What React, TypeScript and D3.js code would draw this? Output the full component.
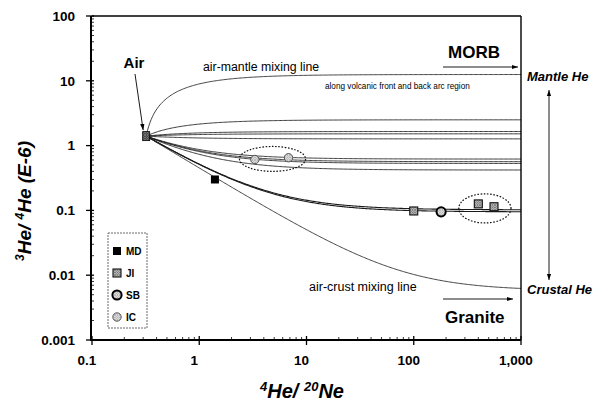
import React from "react";
import * as d3 from "d3";

// ---- data ----
const airPoint = { x: 0.32, y: 1.4 };
// end-member 3He/4He (E-6) of each air mixing curve, read at 4He/20Ne = 1,000
const mixingEndMembers = [12.5, 2.5, 1.65, 1.52, 1.27, 0.62, 0.565, 0.53, 0.42, 0.102, 0.095, 0.0058];
const mdPoints = [{ x: 1.4, y: 0.3 }];
const jiPoints = [
  { x: 100, y: 0.098 },
  { x: 400, y: 0.126 },
  { x: 560, y: 0.114 },
];
const sbPoints = [{ x: 180, y: 0.095 }];
const icPoints = [
  { x: 3.3, y: 0.61 },
  { x: 6.8, y: 0.65 },
];
// dotted group outlines (data extents)
const groupEllipses = [
  { x0: 2.37, x1: 9.8, y0: 0.4, y1: 0.97 },
  { x0: 263, x1: 807, y0: 0.064, y1: 0.18 },
];
const xTicks = [0.1, 1, 10, 100, 1000];
const yTicks = [0.001, 0.01, 0.1, 1, 10, 100];
const legendItems = ["MD", "JI", "SB", "IC"];

const W = 600;
const H = 405;
const FONT = "'Liberation Sans', Arial, sans-serif";

export default function App() {
  const x = d3.scaleLog().domain([0.1, 1000]).range([92, 521]);
  const y = d3.scaleLog().domain([0.001, 100]).range([340, 16]);

  const samples = d3.range(0, 301).map((i) => airPoint.x * Math.pow(1000 / airPoint.x, i / 300));
  const mix = (rEnd: number) => (X: number) => rEnd + (airPoint.y - rEnd) * (airPoint.x / X);
  const line = d3
    .line<number>()
    .x((d) => x(d))
    .y((d) => y(d[1] as any));

  const curvePath = (rEnd: number) => {
    const f = mix(rEnd);
    const pts: [number, number][] = samples.map((X) => [x(X), y(f(X))]);
    return d3.line()(pts) as string;
  };

  const minor: number[] = [];
  for (let e = -3; e < 3; e++) for (let k = 2; k <= 9; k++) minor.push(k * Math.pow(10, e));
  const minorX = minor.filter((v) => v > 0.1 && v < 1000);
  const minorY = minor.filter((v) => v > 0.001 && v < 100);
  const fmtX = (v: number) => (v >= 1000 ? d3.format(",")(v) : String(v));

  const hatch = (id: string, bg: string, fg: string) => (
    <pattern id={id} width="2.5" height="2.5" patternUnits="userSpaceOnUse">
      <rect width="2.5" height="2.5" fill={bg} />
      <path d="M0,0L2.5,2.5M2.5,0L0,2.5" stroke={fg} strokeWidth="0.6" />
    </pattern>
  );

  const JI = (cx: number, cy: number, k: string) => (
    <rect key={k} x={cx - 4} y={cy - 4} width={8} height={8} fill="url(#hatchJI)" stroke="#111" strokeWidth={1.1} />
  );
  const MD = (cx: number, cy: number, k: string) => (
    <rect key={k} x={cx - 4} y={cy - 4} width={8} height={8} fill="#000" />
  );
  const SB = (cx: number, cy: number, k: string) => (
    <circle key={k} cx={cx} cy={cy} r={4.6} fill="url(#hatchIC)" stroke="#000" strokeWidth={2} />
  );
  const IC = (cx: number, cy: number, k: string) => (
    <circle key={k} cx={cx} cy={cy} r={4.2} fill="url(#hatchIC)" stroke="#444" strokeWidth={0.9} />
  );

  return (
    <svg width={W} height={H} style={{ position: "absolute", left: 0, top: 0, background: "#fff" }} fontFamily={FONT}>
      <defs>
        {hatch("hatchJI", "#cfcfcf", "#555")}
        {hatch("hatchIC", "#eee", "#999")}
        {hatch("hatchAir", "#333", "#999")}
        <marker id="arr" viewBox="0 0 10 10" refX="10" refY="5" markerWidth="7" markerHeight="7" orient="auto-start-reverse">
          <path d="M0,1.5L10,5L0,8.5z" fill="#000" />
        </marker>
      </defs>

      {/* mixing curves */}
      {mixingEndMembers.map((r, i) => (
        <path
          key={i}
          d={curvePath(r)}
          fill="none"
          stroke={i === 0 || i === mixingEndMembers.length - 1 ? "#222" : "#1a1a1a"}
          strokeWidth={i === 9 || i === 10 ? 1.1 : 0.85}
        />
      ))}

      {/* group ellipses */}
      {groupEllipses.map((e, i) => {
        const cx = (x(e.x0) + x(e.x1)) / 2;
        const cy = (y(e.y0) + y(e.y1)) / 2;
        return (
          <ellipse
            key={i}
            cx={cx}
            cy={cy}
            rx={(x(e.x1) - x(e.x0)) / 2}
            ry={(y(e.y0) - y(e.y1)) / 2}
            fill="none"
            stroke="#111"
            strokeWidth={1.2}
            strokeDasharray="1.6,1.6"
          />
        );
      })}

      {/* plot frame */}
      <line x1={92} x2={521} y1={16} y2={16} stroke="#000" strokeWidth={1.3} />
      <line x1={521} x2={521} y1={16} y2={340} stroke="#000" strokeWidth={1.4} />
      <line x1={91} x2={91} y1={16} y2={341} stroke="#000" strokeWidth={2} />
      <line x1={90} x2={521} y1={340} y2={340} stroke="#000" strokeWidth={2} />

      {/* y ticks */}
      {yTicks.map((t) => (
        <g key={"y" + t}>
          <line x1={86} x2={94} y1={y(t)} y2={y(t)} stroke="#000" strokeWidth={1.3} />
          <text x={75} y={y(t)} dy="0.36em" textAnchor="end" fontSize={13.5} fontWeight="bold">
            {String(t)}
          </text>
        </g>
      ))}
      {minorY.map((t) => (
        <line key={"ym" + t} x1={91} x2={94} y1={y(t)} y2={y(t)} stroke="#000" strokeWidth={0.8} />
      ))}
      {/* x ticks */}
      {xTicks.map((t) => (
        <g key={"x" + t}>
          <line x1={x(t)} x2={x(t)} y1={336} y2={345} stroke="#000" strokeWidth={1.3} />
          <text x={x(t) - 5} y={365} textAnchor="middle" fontSize={13.5} fontWeight="bold">
            {fmtX(t)}
          </text>
        </g>
      ))}
      {minorX.map((t) => (
        <line key={"xm" + t} x1={x(t)} x2={x(t)} y1={337} y2={340} stroke="#000" strokeWidth={0.8} />
      ))}

      {/* axis titles */}
      <text x={302} y={398} textAnchor="middle" fontSize={20} fontWeight="bold" fontStyle="italic">
        <tspan fontSize={13} dy={-7}>4</tspan>
        <tspan dy={7}>He/ </tspan>
        <tspan fontSize={13} dy={-7}>20</tspan>
        <tspan dy={7}>Ne</tspan>
      </text>
      <text
        transform="translate(31,201) rotate(-90)"
        textAnchor="middle"
        fontSize={19}
        fontWeight="bold"
        fontStyle="italic"
      >
        <tspan fontSize={12} dy={-7}>3</tspan>
        <tspan dy={7}>He/ </tspan>
        <tspan fontSize={12} dy={-7}>4</tspan>
        <tspan dy={7}>He (E-6)</tspan>
      </text>

      {/* air */}
      <rect x={x(airPoint.x) - 3.5} y={y(airPoint.y) - 4.5} width={7} height={9} fill="url(#hatchAir)" stroke="#000" strokeWidth={0.8} />
      <text x={134} y={68} textAnchor="middle" fontSize={15} fontWeight="bold">Air</text>
      <line x1={135} y1={74} x2={x(airPoint.x) - 3} y2={y(airPoint.y) - 6} stroke="#000" strokeWidth={0.9} markerEnd="url(#arr)" />

      {/* data markers */}
      {mdPoints.map((p, i) => MD(x(p.x), y(p.y), "md" + i))}
      {jiPoints.map((p, i) => JI(x(p.x), y(p.y), "ji" + i))}
      {sbPoints.map((p, i) => SB(x(p.x), y(p.y), "sb" + i))}
      {icPoints.map((p, i) => IC(x(p.x), y(p.y), "ic" + i))}

      {/* annotations */}
      <text x={203} y={71} fontSize={12.3}>air-mantle mixing line</text>
      <text x={325} y={89} fontSize={8.2}>along volcanic front and back arc region</text>
      <text x={448} y={58} fontSize={17} fontWeight="bold">MORB</text>
      <line x1={443} x2={518} y1={67} y2={67} stroke="#000" strokeWidth={0.9} markerEnd="url(#arr)" />
      <text x={527} y={81} fontSize={13} fontWeight="bold" fontStyle="italic">Mantle He</text>
      <line x1={549} x2={549} y1={90} y2={280} stroke="#000" strokeWidth={0.9} markerStart="url(#arr)" markerEnd="url(#arr)" />
      <text x={527} y={294} fontSize={13} fontWeight="bold" fontStyle="italic">Crustal He</text>
      <text x={309} y={291} fontSize={12.5}>air-crust mixing line</text>
      <line x1={443} x2={513} y1={299} y2={299} stroke="#000" strokeWidth={0.9} markerEnd="url(#arr)" />
      <text x={445} y={323} fontSize={17} fontWeight="bold">Granite</text>

      {/* legend */}
      <rect x={108} y={233} width={39} height={95} fill="#fff" stroke="#444" strokeWidth={0.8} strokeDasharray="2,1" />
      {legendItems.map((name, i) => {
        const ly = 251 + i * 22;
        const mk = name === "MD" ? MD : name === "JI" ? JI : name === "SB" ? SB : IC;
        return (
          <g key={name}>
            {mk(117, ly, "lg" + name)}
            <text x={126} y={ly} dy="0.35em" fontSize={10} fontWeight="bold">
              {name}
            </text>
          </g>
        );
      })}
    </svg>
  );
}
